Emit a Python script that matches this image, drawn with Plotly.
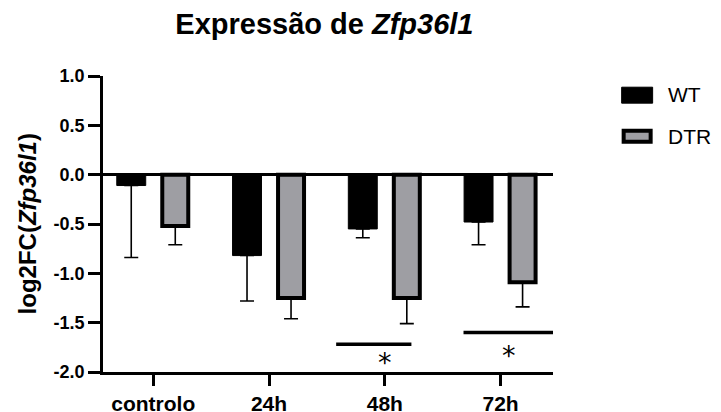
import plotly.graph_objects as go

categories = ["controlo", "24h", "48h", "72h"]
wt_mean = [-0.11, -0.82, -0.55, -0.48]
wt_err = [0.73, 0.46, 0.09, 0.23]
dtr_mean = [-0.52, -1.25, -1.25, -1.09]
dtr_err = [0.19, 0.21, 0.26, 0.25]
y_tickvals = [1.0, 0.5, 0.0, -0.5, -1.0, -1.5, -2.0]
y_ticktext = ["1.0", "0.5", "0.0", "-0.5", "-1.0", "-1.5", "-2.0"]

FONT = "Liberation Sans, Arial, sans-serif"
GRAY = "#9e9ea3"

# the page body adds an 8px offset, so the figure is 8px smaller than the window
W, H = 713, 404

fig = go.Figure()
fig.add_trace(go.Bar(
    x=categories, y=wt_mean, name="WT",
    width=0.25, offset=-0.315,
    marker=dict(color="black", line=dict(color="black", width=1)),
    error_y=dict(type="data", symmetric=False, array=[0] * len(wt_err),
                 arrayminus=wt_err, color="black", thickness=1.6, width=7),
    showlegend=False,
))
fig.add_trace(go.Bar(
    x=categories, y=dtr_mean, name="DTR",
    width=0.2245, offset=0.078,
    marker=dict(color=GRAY, line=dict(color="black", width=4)),
    error_y=dict(type="data", symmetric=False, array=[0] * len(dtr_err),
                 arrayminus=dtr_err, color="black", thickness=1.6, width=7),
    showlegend=False,
))

shapes = []
annotations = []
# significance bars (relative to category index)
sig = [(2, -0.42, 0.23, -1.72, -1.84, 0.0), (3, -0.32, 0.51, -1.60, -1.77, 0.07)]
for idx, dx0, dx1, yl, ya, dxa in sig:
    shapes.append(dict(type="line", xref="x", yref="y", x0=idx + dx0, x1=idx + dx1,
                       y0=yl, y1=yl, line=dict(color="black", width=3.5)))
    annotations.append(dict(xref="x", yref="y", x=idx + dxa, y=ya, text="*",
                            showarrow=False, yanchor="middle", yshift=-6,
                            font=dict(family="DejaVu Sans", size=27, color="black")))

# custom legend
shapes.append(dict(type="rect", xref="paper", yref="paper", x0=1.1526, x1=1.2214,
                   y0=0.9082, y1=0.9622, fillcolor="black", line=dict(color="black", width=1)))
shapes.append(dict(type="rect", xref="paper", yref="paper", x0=1.157, x1=1.217,
                   y0=0.7779, y1=0.815, fillcolor=GRAY, line=dict(color="black", width=4)))
annotations.append(dict(xref="paper", yref="paper", x=1.252, y=0.936, text="WT",
                        showarrow=False, xanchor="left", yanchor="middle",
                        font=dict(family=FONT, size=21, color="black")))
annotations.append(dict(xref="paper", yref="paper", x=1.252, y=0.7957, text="DTR",
                        showarrow=False, xanchor="left", yanchor="middle",
                        font=dict(family=FONT, size=21, color="black")))
# y-axis title
annotations.append(dict(xref="paper", yref="paper", x=-0.168, y=0.5,
                        text="<b>log2FC(<i>Zfp36l1</i>)</b>", textangle=-90,
                        showarrow=False, xanchor="center", yanchor="middle",
                        font=dict(family=FONT, size=24, color="black")))

fig.update_layout(
    width=W, height=H,
    margin=dict(l=95, r=168, t=68, b=40),
    paper_bgcolor="white", plot_bgcolor="white",
    barmode="overlay",
    font=dict(family=FONT, color="black"),
    title=dict(text="<b>Expressão de <i>Zfp36l1</i></b>", x=0.492, xref="paper",
               y=1 - 15.5 / H, yref="container", xanchor="center", yanchor="middle",
               font=dict(family=FONT, size=29, color="black")),
    xaxis=dict(type="category", range=[-0.434, 3.453], showline=True, linecolor="black",
               linewidth=2.5, ticks="outside", ticklen=11, tickwidth=2.5, tickcolor="black",
               showgrid=False, zeroline=False, automargin=False,
               tickfont=dict(family=FONT, size=21, color="black", weight="bold")),
    yaxis=dict(range=[-2.0, 1.0], showline=True, linecolor="black", linewidth=2.5,
               ticks="outside", ticklen=12, tickwidth=2.5, tickcolor="black",
               tickvals=y_tickvals, ticktext=y_ticktext, showgrid=False,
               zeroline=True, zerolinecolor="black", zerolinewidth=2.5, automargin=False,
               tickfont=dict(family=FONT, size=18, color="black", weight="bold")),
    shapes=shapes, annotations=annotations,
)

fig.write_html("out.html")
